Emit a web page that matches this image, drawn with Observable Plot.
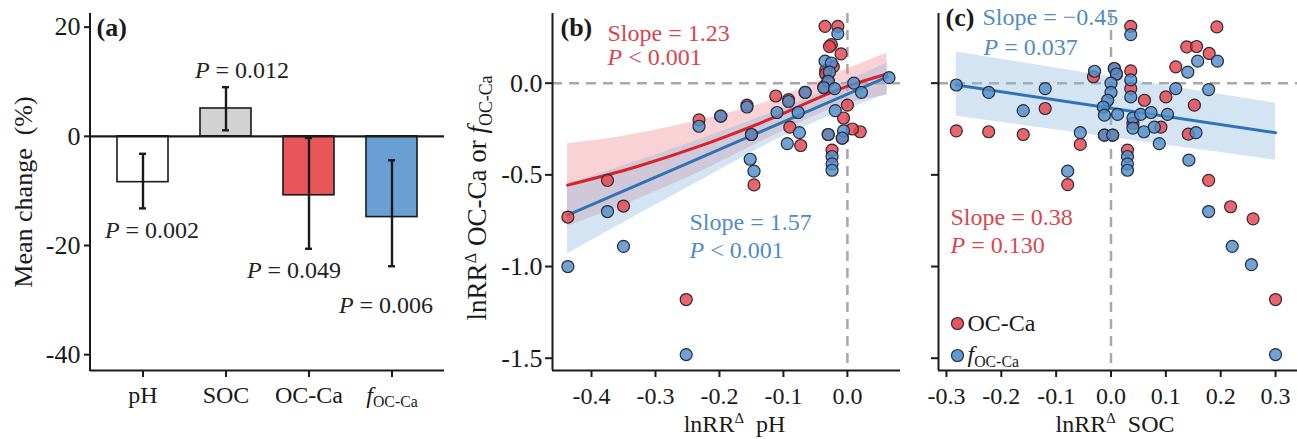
<!DOCTYPE html>
<html>
<head>
<meta charset="utf-8">
<script src="https://cdn.jsdelivr.net/npm/d3@7"></script>
<script src="https://cdn.jsdelivr.net/npm/@observablehq/plot@0.6"></script>
<style>
  html, body { margin: 0; padding: 0; background: #ffffff; }
  #wrap { position: relative; width: 1297px; height: 439px; overflow: hidden; background: #fff; }
  #wrap svg { position: absolute; top: 0; }
</style>
</head>
<body>
<div id="wrap"></div>
<script>
// ---------------- DATA ----------------
// Panel (a): mean change (%)
const barCategories = ["pH", "SOC", "OC-Ca", "fOC-Ca"];
const barValues = [-8.4, 5.1, -10.8, -14.8];
const errLow = [-13.2, 1.1, -20.6, -23.8];
const errHigh = [-3.2, 9.0, -0.3, -4.4];
const barColors = ["#ffffff", "#d2d2d2", "#e8555a", "#6a9fd3"];
const pTexts = ["*P* = 0.002", "*P* = 0.012", "*P* = 0.049", "*P* = 0.006"];
const yTicksA = [20, 0, -20, -40];

// Panel (b): lnRR pH (x) vs lnRR OC-Ca (red) / f OC-Ca (blue)
const bOCCa = [
  [-0.437, -0.73], [-0.375, -0.53], [-0.350, -0.67], [-0.252, -1.18], [-0.232, -0.20],
  [-0.198, -0.18], [-0.157, -0.12], [-0.150, -0.28], [-0.146, -0.555], [-0.112, -0.07],
  [-0.092, -0.09], [-0.090, -0.24], [-0.073, -0.34], [-0.066, -0.05], [-0.035, 0.31],
  [-0.015, 0.31], [-0.025, 0.21], [-0.028, 0.20], [-0.010, 0.16], [-0.022, 0.09],
  [-0.034, 0.07], [-0.034, 0.05], [-0.030, 0.015], [-0.037, -0.02], [0.000, -0.12],
  [-0.006, -0.19], [-0.030, -0.28], [0.020, -0.265], [0.008, -0.25], [-0.008, -0.30],
  [-0.024, -0.365]
];
const bFOCCa = [
  [-0.437, -1.00], [-0.375, -0.70], [-0.350, -0.89], [-0.252, -1.48], [-0.232, -0.235],
  [-0.198, -0.18], [-0.157, -0.13], [-0.150, -0.28], [-0.152, -0.415], [-0.146, -0.48],
  [-0.092, -0.10], [-0.110, -0.16], [-0.077, -0.16], [-0.075, -0.27], [-0.094, -0.33],
  [-0.066, -0.05], [-0.015, 0.27], [-0.035, 0.12], [-0.025, 0.11], [-0.028, 0.06],
  [-0.030, 0.01], [-0.037, -0.025], [-0.020, -0.03], [0.010, 0.00], [0.022, -0.05],
  [-0.019, -0.15], [-0.030, -0.28], [-0.006, -0.26], [-0.008, -0.30], [-0.024, -0.40],
  [-0.024, -0.44], [-0.024, -0.475], [0.065, 0.03]
];
// fitted lines and confidence bands
const fitBRedX  = [-0.4375, -0.331, -0.2266, -0.1224, -0.0026, 0.062];
const fitBRedY  = [-0.556, -0.457, -0.338, -0.198, -0.020, 0.050];
const fitBRedLo = [-0.781, -0.637, -0.478, -0.298, -0.115, -0.065];
const fitBRedHi = [-0.331, -0.277, -0.198, -0.098, 0.075, 0.165];
const fitBBlueX  = [-0.4375, -0.25, -0.10, 0.0625];
const fitBBlueY  = [-0.720, -0.437, -0.211, 0.034];
const fitBBlueLo = [-0.930, -0.570, -0.290, -0.060];
const fitBBlueHi = [-0.550, -0.330, -0.135, 0.110];

// Panel (c): lnRR SOC (x) vs lnRR OC-Ca (red) / f OC-Ca (blue)
const cOCCa = [
  [-0.282, -0.26], [-0.223, -0.265], [-0.160, -0.28], [-0.120, -0.138], [-0.056, -0.334],
  [-0.079, -0.553], [-0.032, 0.035], [0.036, 0.31], [0.036, 0.067], [0.036, -0.03],
  [0.061, -0.093], [0.100, -0.075], [0.118, 0.089], [0.138, 0.198], [0.156, 0.20],
  [0.179, 0.162], [0.193, 0.307], [0.152, -0.12], [0.141, -0.278], [0.091, -0.24],
  [0.178, -0.53], [0.218, -0.674], [0.259, -0.74], [0.300, -1.18], [0.040, -0.22],
  [0.030, -0.365], [-0.012, -0.283], [0.003, -0.283], [0.006, 0.08], [0.010, 0.05]
];
const cFOCCa = [
  [-0.282, -0.01], [-0.223, -0.05], [-0.160, -0.15], [-0.120, -0.03], [-0.056, -0.27],
  [-0.079, -0.48], [-0.030, 0.065], [0.036, 0.265], [0.088, -0.33], [0.118, -0.03],
  [0.140, 0.06], [0.158, 0.12], [0.194, 0.12], [0.178, -0.035], [0.155, -0.27],
  [0.142, -0.42], [0.178, -0.70], [0.221, -0.89], [0.256, -0.99], [0.300, -1.48],
  [0.006, 0.08], [0.010, 0.05], [0.000, 0.00], [0.000, -0.05], [-0.006, -0.093],
  [-0.014, -0.13], [-0.012, -0.174], [0.012, -0.17], [0.036, 0.018], [0.036, -0.075],
  [0.040, -0.19], [0.040, -0.245], [0.060, -0.265], [0.079, -0.24], [0.054, -0.17],
  [0.073, -0.16], [0.103, -0.17], [-0.012, -0.283], [0.003, -0.283], [0.030, -0.40],
  [0.030, -0.44], [0.030, -0.475]
];
// fitted line and confidence band, f OC-Ca only
const fitCBlueX  = [-0.282, 0.300];
const fitCBlueY  = [-0.010, -0.270];
const fitCBlueLo = [-0.180, -0.420];
const fitCBlueHi = [0.170, -0.110];

const yTicksBC = [0, -0.5, -1.0, -1.5];
const xTicksB = [-0.4, -0.3, -0.2, -0.1, 0.0];
const xTicksC = [-0.3, -0.2, -0.1, 0.0, 0.1, 0.2, 0.3];

// ---------------- STYLE ----------------
const FONT = '"Liberation Serif", "Times New Roman", Times, serif';
const INK = "#1a1a1a";
const RED_PT = "#e8434b", BLUE_PT = "#4f8fcb", PT_STROKE = "#2a2a38";
const RED_LINE = "#dd2128", BLUE_LINE = "#2e74b5";
const RED_BAND = "#ee8890", BLUE_BAND = "#8db7df";
const RED_TXT = "#d9454d", BLUE_TXT = "#4f8cc6";
const DASH = "#a8a8a8";
const Y_DOMAIN_BC = [-1.567, 0.38];
const FS_YTICK = 26, FS_XTICK = 24, FS_NOTE = 24;

// rich-text: *italic*, _{sub}, ^{sup}
function richify(svg) {
  svg.querySelectorAll("text").forEach(t => {
    const s = t.textContent;
    if (!/\*|_\{|\^\{/.test(s)) return;
    const fs = parseFloat(getComputedStyle(t).fontSize) || 23;
    while (t.firstChild) t.removeChild(t.firstChild);
    const parts = s.split(/(\*[^*]+\*|_\{[^}]*\}|\^\{[^}]*\})/).filter(p => p);
    let shift = 0;
    for (const p of parts) {
      const ts = document.createElementNS("http://www.w3.org/2000/svg", "tspan");
      let txt = p, target = 0;
      if (p.startsWith("*")) { txt = p.slice(1, -1); ts.setAttribute("font-style", "italic"); }
      else if (p.startsWith("_{")) { txt = p.slice(2, -1); ts.setAttribute("font-size", (fs * 0.66).toFixed(1)); target = fs * 0.2; }
      else if (p.startsWith("^{")) { txt = p.slice(2, -1); ts.setAttribute("font-size", (fs * 0.62).toFixed(1)); target = -fs * 0.38; }
      if (target !== shift) { ts.setAttribute("dy", (target - shift).toFixed(2)); shift = target; }
      ts.textContent = txt;
      t.appendChild(ts);
    }
  });
}

const wrap = document.getElementById("wrap");
function place(svg, left) {
  svg.style.left = left + "px";
  wrap.appendChild(svg);
  richify(svg);
}
const rowsOf = (xs, ys, lo, hi) => xs.map((x, i) => ({ x, y: ys[i], lo: lo[i], hi: hi[i] }));

const baseStyle = { fontFamily: FONT, fontSize: "24px", color: INK, background: "transparent", overflow: "visible" };

// ---------------- PANEL A ----------------
const barRows = barCategories.map((c, i) => ({
  cat: c, value: barValues[i], lo: errLow[i], hi: errHigh[i], fill: barColors[i],
  pText: pTexts[i], pY: i === 1 ? errHigh[i] : errLow[i]
}));
const pOffsets = [[9, 22], [16, -17], [-15, 22], [-6, 39]];
const yDomA = [-42.9, 22.5];

const panelA = Plot.plot({
  width: 450, height: 439,
  marginLeft: 90, marginRight: 6, marginTop: 13, marginBottom: 69,
  style: baseStyle,
  x: { domain: barCategories, paddingInner: 0.38, paddingOuter: 0.30, label: null },
  y: { domain: yDomA, label: null },
  color: { type: "identity" },
  marks: [
    Plot.barY(barRows, { x: "cat", y: "value", fill: "fill", stroke: INK, strokeWidth: 1.6 }),
    Plot.ruleY([0], { stroke: INK, strokeWidth: 2.2 }),
    Plot.ruleX(barRows, { x: "cat", y1: "lo", y2: "hi", stroke: INK, strokeWidth: 2.4 }),
    Plot.tickY(barRows, { x: "cat", y: "lo", insetLeft: 22, insetRight: 22, stroke: INK, strokeWidth: 2.4 }),
    Plot.tickY(barRows, { x: "cat", y: "hi", insetLeft: 22, insetRight: 22, stroke: INK, strokeWidth: 2.4 }),
    ...barRows.map((r, i) => Plot.text([r], {
      x: "cat", y: "pY", text: "pText", dx: pOffsets[i][0], dy: pOffsets[i][1],
      fontSize: FS_NOTE, fill: "#222"
    })),
    Plot.ruleY([yDomA[0]], { stroke: INK, strokeWidth: 2 }),
    Plot.axisY({ ticks: yTicksA, tickSize: 6, tickPadding: 4, tickFormat: d => String(d), strokeWidth: 2, fontSize: FS_YTICK, label: null }),
    Plot.axisX({ tickSize: 7, tickPadding: 8, tickFormat: d => d === "fOC-Ca" ? "*f*_{OC-Ca}" : d, strokeWidth: 2, fontSize: FS_XTICK, label: null }),
    Plot.text(["Mean change\u00a0 (%)"], { frameAnchor: "left", textAnchor: "middle", lineAnchor: "middle", dx: -67, rotate: -90, fontSize: 26, text: d => d }),
    Plot.text(["(a)"], { frameAnchor: "top-left", dx: 6, dy: 14, textAnchor: "start", lineAnchor: "middle", fontWeight: "bold", fontSize: 26, text: d => d })
  ]
});
{
  const xs = panelA.scale("x"), ys = panelA.scale("y");
  d3.select(panelA).append("line")
    .attr("x1", xs.range[0]).attr("x2", xs.range[0])
    .attr("y1", ys.range[0] + 1).attr("y2", ys.range[1])
    .attr("stroke", INK).attr("stroke-width", 2);
}
place(panelA, 0);

// ---------------- PANEL B ----------------
const xDomB = [-0.461, 0.083];
const px = d => d[0], py = d => d[1];
const dotOpts = { x: px, y: py, r: 6, stroke: PT_STROKE, strokeWidth: 1.2, fillOpacity: 0.82 };
const fitBRed = rowsOf(fitBRedX, fitBRedY, fitBRedLo, fitBRedHi);
const fitBBlue = rowsOf(fitBBlueX, fitBBlueY, fitBBlueLo, fitBBlueHi);

const panelB = Plot.plot({
  width: 455, height: 439,
  marginLeft: 102, marginRight: 5, marginTop: 13, marginBottom: 69,
  style: baseStyle,
  x: { domain: xDomB, label: null },
  y: { domain: Y_DOMAIN_BC, label: null },
  marks: [
    Plot.ruleY([0], { stroke: DASH, strokeWidth: 2.5, strokeDasharray: "10,7" }),
    Plot.ruleX([0], { stroke: DASH, strokeWidth: 2.5, strokeDasharray: "10,7" }),
    Plot.areaY(fitBRed, { x: "x", y1: "lo", y2: "hi", fill: RED_BAND, fillOpacity: 0.38, curve: "monotone-x" }),
    Plot.areaY(fitBBlue, { x: "x", y1: "lo", y2: "hi", fill: BLUE_BAND, fillOpacity: 0.38, curve: "monotone-x" }),
    Plot.line(fitBRed, { x: "x", y: "y", stroke: RED_LINE, strokeWidth: 3, curve: "monotone-x" }),
    Plot.line(fitBBlue, { x: "x", y: "y", stroke: BLUE_LINE, strokeWidth: 3, curve: "monotone-x" }),
    Plot.dot(bOCCa, { ...dotOpts, fill: RED_PT }),
    Plot.dot(bFOCCa, { ...dotOpts, fill: BLUE_PT }),
    Plot.ruleX([xDomB[0]], { stroke: INK, strokeWidth: 2 }),
    Plot.ruleY([Y_DOMAIN_BC[0]], { stroke: INK, strokeWidth: 2 }),
    Plot.axisY({ ticks: yTicksBC, tickSize: 7, tickPadding: 3, tickFormat: d => d.toFixed(1), strokeWidth: 2, fontSize: FS_YTICK, label: null }),
    Plot.axisX({ ticks: xTicksB, tickSize: 7, tickPadding: 9, tickFormat: d => d.toFixed(1), strokeWidth: 2, fontSize: FS_XTICK, label: null }),
    Plot.text(["lnRR^{Δ} OC-Ca or *f*_{OC-Ca}"], { frameAnchor: "left", textAnchor: "middle", lineAnchor: "middle", dx: -75, dy: 6, rotate: -90, fontSize: 27, text: d => d }),
    Plot.text(["lnRR^{Δ}\u00a0 pH"], { frameAnchor: "bottom", textAnchor: "middle", lineAnchor: "middle", dx: 8, dy: 54, fontSize: 24, text: d => d }),
    Plot.text(["(b)"], { frameAnchor: "top-left", dx: 8, dy: 14, textAnchor: "start", lineAnchor: "middle", fontWeight: "bold", fontSize: 26, text: d => d }),
    Plot.text(["Slope = 1.23"], { frameAnchor: "top-left", dx: 55, dy: 20, textAnchor: "start", lineAnchor: "middle", fontSize: FS_NOTE, fill: RED_TXT, text: d => d }),
    Plot.text(["*P* < 0.001"], { frameAnchor: "top-left", dx: 55, dy: 44, textAnchor: "start", lineAnchor: "middle", fontSize: FS_NOTE, fill: RED_TXT, text: d => d }),
    Plot.text(["Slope = 1.57"], { frameAnchor: "top-left", dx: 137, dy: 209, textAnchor: "start", lineAnchor: "middle", fontSize: FS_NOTE, fill: BLUE_TXT, text: d => d }),
    Plot.text(["*P* < 0.001"], { frameAnchor: "top-left", dx: 137, dy: 237, textAnchor: "start", lineAnchor: "middle", fontSize: FS_NOTE, fill: BLUE_TXT, text: d => d })
  ]
});
place(panelB, 450);

// ---------------- PANEL C ----------------
const xDomC = [-0.3145, 0.34];
const fitCBlue = rowsOf(fitCBlueX, fitCBlueY, fitCBlueLo, fitCBlueHi);
const panelC = Plot.plot({
  width: 392, height: 439,
  marginLeft: 33, marginRight: 0, marginTop: 13, marginBottom: 69,
  style: baseStyle,
  x: { domain: xDomC, label: null },
  y: { domain: Y_DOMAIN_BC, label: null },
  marks: [
    Plot.ruleY([0], { stroke: DASH, strokeWidth: 2.5, strokeDasharray: "10,7" }),
    Plot.ruleX([0], { stroke: DASH, strokeWidth: 2.5, strokeDasharray: "10,7" }),
    Plot.areaY(fitCBlue, { x: "x", y1: "lo", y2: "hi", fill: BLUE_BAND, fillOpacity: 0.38 }),
    Plot.line(fitCBlue, { x: "x", y: "y", stroke: BLUE_LINE, strokeWidth: 3 }),
    Plot.dot(cOCCa, { ...dotOpts, fill: RED_PT }),
    Plot.dot(cFOCCa, { ...dotOpts, fill: BLUE_PT }),
    Plot.ruleX([xDomC[0]], { stroke: INK, strokeWidth: 2 }),
    Plot.ruleY([Y_DOMAIN_BC[0]], { stroke: INK, strokeWidth: 2 }),
    Plot.axisY({ ticks: yTicksBC, tickSize: 7, tickFormat: () => "", strokeWidth: 2, label: null }),
    Plot.axisX({ ticks: xTicksC, tickSize: 7, tickPadding: 9, tickFormat: d => d.toFixed(1), strokeWidth: 2, fontSize: FS_XTICK, label: null }),
    Plot.text(["lnRR^{Δ}\u00a0 SOC"], { frameAnchor: "bottom", textAnchor: "middle", lineAnchor: "middle", dx: -3, dy: 54, fontSize: 24, text: d => d }),
    Plot.text(["(c)"], { frameAnchor: "top-left", dx: 7, dy: 4, textAnchor: "start", lineAnchor: "middle", fontWeight: "bold", fontSize: 26, text: d => d }),
    Plot.text(["Slope = \u22120.45"], { frameAnchor: "top-left", dx: 44, dy: 4, textAnchor: "start", lineAnchor: "middle", fontSize: FS_NOTE, fill: BLUE_TXT, text: d => d }),
    Plot.text(["*P* = 0.037"], { frameAnchor: "top-left", dx: 45, dy: 34, textAnchor: "start", lineAnchor: "middle", fontSize: FS_NOTE, fill: BLUE_TXT, text: d => d }),
    Plot.text(["Slope = 0.38"], { frameAnchor: "top-left", dx: 12, dy: 204, textAnchor: "start", lineAnchor: "middle", fontSize: FS_NOTE, fill: RED_TXT, text: d => d }),
    Plot.text(["*P* = 0.130"], { frameAnchor: "top-left", dx: 12, dy: 232, textAnchor: "start", lineAnchor: "middle", fontSize: FS_NOTE, fill: RED_TXT, text: d => d }),
    // legend
    Plot.dot(["OC-Ca"], { frameAnchor: "bottom-left", dx: 19, dy: -47, r: 6, fill: RED_PT, fillOpacity: 0.9, stroke: PT_STROKE, strokeWidth: 1.2 }),
    Plot.dot(["f"], { frameAnchor: "bottom-left", dx: 19, dy: -15, r: 6, fill: BLUE_PT, fillOpacity: 0.9, stroke: PT_STROKE, strokeWidth: 1.2 }),
    Plot.text(["OC-Ca"], { frameAnchor: "bottom-left", dx: 29, dy: -47, textAnchor: "start", lineAnchor: "middle", fontSize: FS_NOTE, text: d => d }),
    Plot.text(["*f*_{OC-Ca}"], { frameAnchor: "bottom-left", dx: 29, dy: -16, textAnchor: "start", lineAnchor: "middle", fontSize: FS_NOTE, text: d => d })
  ]
});
place(panelC, 905);
</script>
</body>
</html>
